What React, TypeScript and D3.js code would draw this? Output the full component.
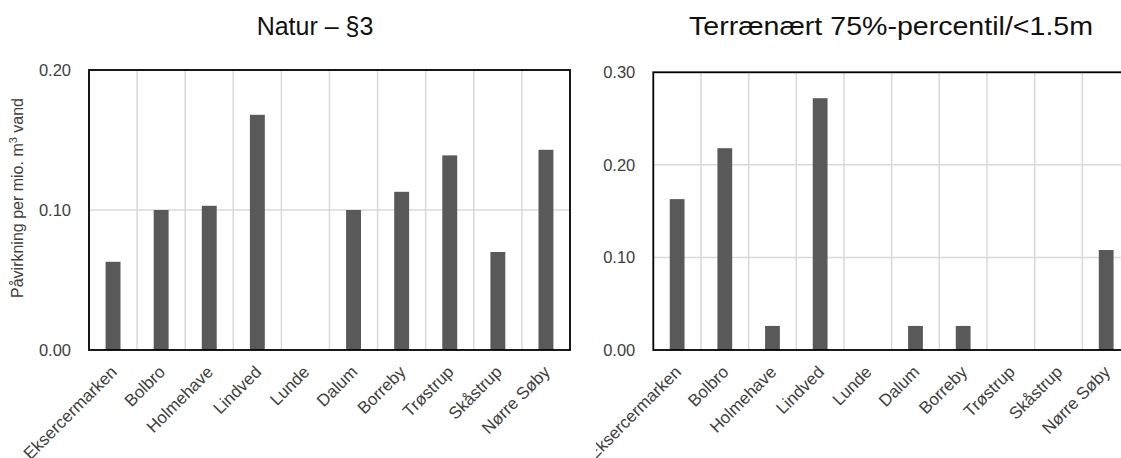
import * as d3 from "d3";

const categories = [
  "Eksercermarken",
  "Bolbro",
  "Holmehave",
  "Lindved",
  "Lunde",
  "Dalum",
  "Borreby",
  "Trøstrup",
  "Skåstrup",
  "Nørre Søby",
];

const naturValues = [0.063, 0.1, 0.103, 0.168, 0, 0.1, 0.113, 0.139, 0.07, 0.143];
const terraenValues = [0.163, 0.218, 0.026, 0.272, 0, 0.026, 0.026, 0, 0, 0.108];

const naturTicks = [0, 0.1, 0.2];
const terraenTicks = [0, 0.1, 0.2, 0.3];

const FONT = "'Liberation Sans', Arial, sans-serif";

interface PanelProps {
  id: string;
  title: string;
  titleX: number;
  titleWidth?: number;
  values: number[];
  ticks: number[];
  yMax: number;
  left: number;
  right: number;
  top: number;
  bottom: number;
  clipLeft: number;
  clipRight: number;
  showYLabel?: boolean;
}

function Panel({
  id,
  title,
  titleX,
  titleWidth,
  values,
  ticks,
  yMax,
  left,
  right,
  top,
  bottom,
  clipLeft,
  clipRight,
  showYLabel,
}: PanelProps) {
  const x = d3.scaleBand<string>().domain(categories).range([left, right]);
  const y = d3.scaleLinear([0, yMax], [bottom, top]);
  const bw = x.bandwidth() * 0.31;

  return (
    <g clipPath={`url(#${id})`}>
      <defs>
        <clipPath id={id}>
          <rect x={clipLeft} y={0} width={clipRight - clipLeft} height={458} />
        </clipPath>
      </defs>
      <text
        x={titleX}
        y={35}
        textAnchor="middle"
        fontSize={25}
        fill="#111"
        fontFamily={FONT}
        textLength={titleWidth}
        lengthAdjust={titleWidth ? "spacingAndGlyphs" : undefined}
      >
        {title}
      </text>
      {/* gridlines */}
      <g stroke="#d9d9d9" strokeWidth={1.5}>
        {ticks.slice(1).map((t) => (
          <line key={t} x1={left} x2={right} y1={y(t)} y2={y(t)} />
        ))}
        {categories.slice(1).map((c) => (
          <line key={c} x1={x(c)!} x2={x(c)!} y1={top} y2={bottom} />
        ))}
      </g>
      {/* bars */}
      <g fill="#595959">
        {values.map((v, i) => (
          <rect
            key={i}
            x={x(categories[i])! + x.bandwidth() / 2 - bw / 2}
            y={y(v)}
            width={bw}
            height={bottom - y(v)}
          />
        ))}
      </g>
      {/* frame */}
      <g stroke="#000" strokeWidth={1.8} fill="none">
        <rect x={left} y={top} width={right - left} height={bottom - top} />
      </g>
      {/* y tick labels */}
      <g fontSize={16.5} fill="#404040" fontFamily={FONT} textAnchor="end">
        {ticks.map((t) => (
          <text key={t} x={left - 18} y={y(t)} dy="0.35em">
            {d3.format(".2f")(t)}
          </text>
        ))}
      </g>
      {/* category labels */}
      <g fontSize={17} fill="#404040" fontFamily={FONT} textAnchor="end">
        {categories.map((c) => (
          <text
            key={c}
            transform={`translate(${x(c)! + x.bandwidth() / 2 + 5},${bottom + 23}) rotate(-45)`}
          >
            {c}
          </text>
        ))}
      </g>
      {showYLabel && (
        <text
          transform={`translate(23,198) rotate(-90)`}
          textAnchor="middle"
          fontSize={16}
          fill="#404040"
          fontFamily={FONT}
        >
          Påvirkning per mio. m<tspan dy={-6} fontSize={11}>3</tspan>
          <tspan dy={6}> vand</tspan>
        </text>
      )}
    </g>
  );
}

export default function App() {
  return (
    <svg
      width={1121}
      height={458}
      style={{ position: "absolute", left: 0, top: 0, background: "#fff" }}
    >
      <rect width={1121} height={458} fill="#fff" />
      <Panel
        id="clipL"
        title="Natur – §3"
        titleX={315}
        values={naturValues}
        ticks={naturTicks}
        yMax={0.2}
        left={89}
        right={570}
        top={70}
        bottom={350}
        clipLeft={0}
        clipRight={594}
        showYLabel={true}
      />
      <Panel
        id="clipR"
        title="Terrænært 75%-percentil/<1.5m"
        titleX={891}
        titleWidth={404}
        values={terraenValues}
        ticks={terraenTicks}
        yMax={0.3}
        left={653.3}
        right={1130}
        top={72.3}
        bottom={350}
        clipLeft={596}
        clipRight={1121}
      />
    </svg>
  );
}
